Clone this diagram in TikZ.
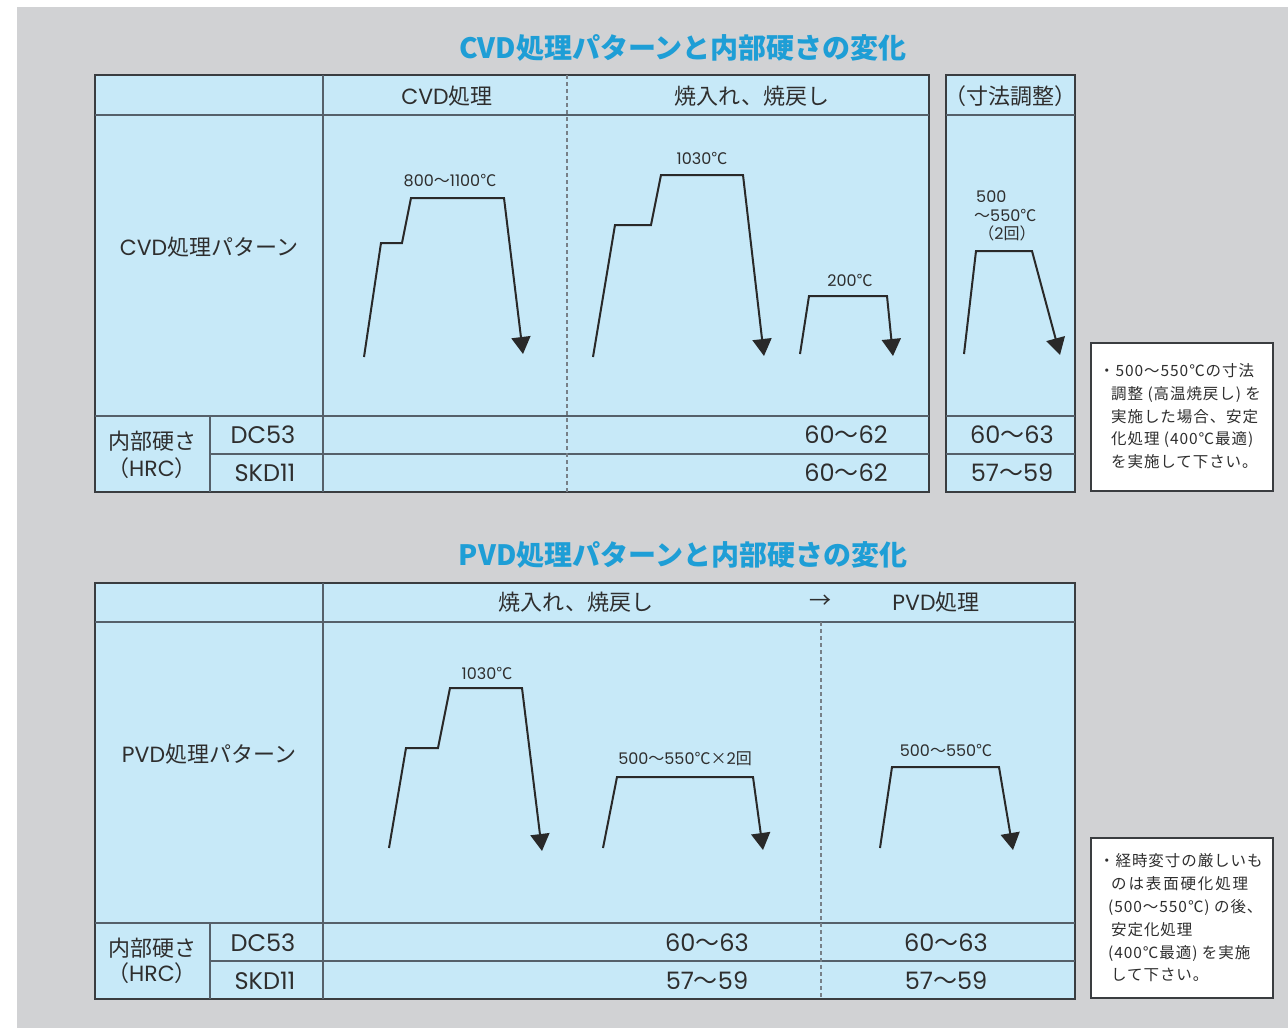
\documentclass[tikz,border=0pt]{standalone}
\usepackage{fontspec}
\setmainfont{Noto Sans CJK JP}
\newfontfamily\latfont{Poppins}
\newfontfamily\notefont[LetterSpace=6]{Noto Sans CJK JP}
\newfontfamily\notewide[LetterSpace=12]{Noto Sans CJK JP}
\newcommand{\LT}[1]{{\latfont #1}}
\usetikzlibrary{arrows.meta}
\definecolor{bgc}{HTML}{D1D2D4}
\definecolor{cellc}{HTML}{C7E9F8}
\definecolor{framec}{HTML}{3A3D40}
\definecolor{innerc}{HTML}{55606A}
\definecolor{titlec}{HTML}{1E9ED6}
\definecolor{txtc}{HTML}{2E2E2E}
\begin{document}
\begin{tikzpicture}[x=1pt,y=-1pt,
  tbl/.style={fill=cellc,draw=framec,line width=1.4pt},
  inner/.style={draw=innerc,line width=1.2pt},
  dsh/.style={draw=innerc!80,line width=1.1pt,dash pattern=on 4pt off 3pt},
  ttl/.style={text=titlec,font=\fontsize{28}{30}\selectfont\bfseries,inner sep=0pt},
  hdr/.style={text=txtc,font=\fontsize{22}{24}\selectfont,inner sep=0pt},
  mat/.style={text=txtc,font=\fontsize{24}{26}\selectfont,inner sep=0pt},
  val/.style={text=txtc,font=\fontsize{24}{26}\selectfont,inner sep=0pt},
  lbl/.style={text=txtc,font=\fontsize{16}{18}\selectfont,inner sep=0pt},
  notebox/.style={fill=white,draw=framec,line width=1.2pt},
  notetxt/.style={text=txtc,font=\fontsize{15.5}{17}\selectfont\notefont,inner sep=0pt,anchor=west},
  crv/.style={draw=txtc!90!black,line width=2pt,-{Triangle[length=17pt,width=19pt]}}]
\useasboundingbox (0,0) rectangle (1288,1028);
\fill[bgc] (17,7) rectangle (1288,1028);

% ===== CVD =====
\node[ttl] (t1) at (683,48) {CVD処理パターンと内部硬さの変化};
\path[tbl] (95,75) rectangle (929,492);
\draw[inner] (95,115) -- (929,115);
\draw[inner] (323,75) -- (323,492);
\draw[inner] (95,416) -- (929,416);
\draw[inner] (210,454) -- (929,454);
\draw[inner] (210,416) -- (210,492);
\draw[dsh] (567,75) -- (567,492);
\node[hdr] (h1) at (447,96) {\LT{CVD}処理};
\node[hdr] (h2) at (752,96) {焼入れ、焼戻し};
\node[hdr] (r1) at (209,247) {\LT{CVD}処理パターン};
\node[hdr] (k1) at (152,441) {内部硬さ};
\node[hdr] (k2) at (152,468) {（\LT{HRC}）};
\node[mat] (m1) at (263,435) {\LT{DC53}};
\node[mat] (m2) at (265,473) {\LT{SKD11}};
\node[val] (v1) at (846,435) {\LT{60}〜\LT{62}};
\node[val] (v2) at (846,473) {\LT{60}〜\LT{62}};

\draw[crv] (364,357) -- (381,243) -- (402,243) -- (411,198) -- (504,198) -- (523,354);
\node[lbl] (c1) at (450,181) {\LT{800}〜\LT{1100}℃};
\draw[crv] (593,357) -- (615,225) -- (651,225) -- (661,175) -- (743,175) -- (764,356);
\node[lbl] (c2) at (702,158) {\LT{1030}℃};
\draw[crv] (800,354) -- (809,296) -- (887,296) -- (893,356);
\node[lbl] (c3) at (850,280) {\LT{200}℃};

% ===== sizing =====
\path[tbl] (946,75) rectangle (1075,492);
\draw[inner] (946,115) -- (1075,115);
\draw[inner] (946,416) -- (1075,416);
\draw[inner] (946,454) -- (1075,454);
\node[hdr] (h3) at (1010,96) {（寸法調整）};
\node[val] (v3) at (1012,435) {\LT{60}〜\LT{63}};
\node[val] (v4) at (1012,473) {\LT{57}〜\LT{59}};
\draw[crv] (964,354) -- (976,251) -- (1032,251) -- (1060,355);
\node[lbl,anchor=west] (c4a) at (976,197) {\LT{500}};
\node[lbl,anchor=west] (c4b) at (974,215) {〜\LT{550}℃};
\node[lbl] (c4c) at (1007,233) {（\LT{2}回）};

% note 1
\path[notebox] (1091,343) rectangle (1273,491);
\node[notetxt] (n1) at (1099,371) {・500〜550℃の寸法};
\node[notetxt] (n2) at (1111,394) {調整 (高温焼戻し) を};
\node[notetxt] (n3) at (1111,417) {実施した場合、安定};
\node[notetxt] (n4) at (1111,440) {化処理 (400℃最適)};
\node[notetxt] (n5) at (1111,462) {を実施して下さい。};

% ===== PVD =====
\node[ttl] (t2) at (683,555) {PVD処理パターンと内部硬さの変化};
\path[tbl] (95,583) rectangle (1075,999);
\draw[inner] (95,622) -- (1075,622);
\draw[inner] (323,583) -- (323,999);
\draw[inner] (95,923) -- (1075,923);
\draw[inner] (210,961) -- (1075,961);
\draw[inner] (210,923) -- (210,999);
\draw[dsh] (821,622) -- (821,999);
\node[hdr] (h4) at (576,602) {焼入れ、焼戻し};
\node[hdr] (h5) at (820,602) {→};
\node[hdr] (h6) at (936,602) {\LT{PVD}処理};
\node[hdr] (r2) at (209,754) {\LT{PVD}処理パターン};
\node[hdr] (k3) at (152,948) {内部硬さ};
\node[hdr] (k4) at (152,973) {（\LT{HRC}）};
\node[mat] (m3) at (263,943) {\LT{DC53}};
\node[mat] (m4) at (265,981) {\LT{SKD11}};
\node[val] (v5) at (707,943) {\LT{60}〜\LT{63}};
\node[val] (v6) at (707,981) {\LT{57}〜\LT{59}};
\node[val] (v7) at (946,943) {\LT{60}〜\LT{63}};
\node[val] (v8) at (946,981) {\LT{57}〜\LT{59}};

\draw[crv] (389,848) -- (406,748) -- (438,748) -- (450,688) -- (522,688) -- (542,851);
\node[lbl] (c5) at (487,673) {\LT{1030}℃};
\draw[crv] (603,848) -- (617,777) -- (753,777) -- (763,850);
\node[lbl] (c6) at (685,759) {\LT{500}〜\LT{550}℃×\LT{2}回};
\draw[crv] (880,848) -- (892,767) -- (999,767) -- (1013,850);
\node[lbl] (c7) at (946,750) {\LT{500}〜\LT{550}℃};

% note 2
\path[notebox] (1091,838) rectangle (1273,998);
\node[notetxt] (p1) at (1099,861) {・経時変寸の厳しいも};
\node[notetxt,font=\fontsize{15.5}{17}\selectfont\notewide] (p2) at (1111,884) {のは表面硬化処理};
\node[notetxt] (p3) at (1108,907) {(500〜550℃) の後、};
\node[notetxt] (p4) at (1111,930) {安定化処理};
\node[notetxt] (p5) at (1108,953) {(400℃最適) を実施};
\node[notetxt] (p6) at (1111,975) {して下さい。};
\end{tikzpicture}
\end{document}
